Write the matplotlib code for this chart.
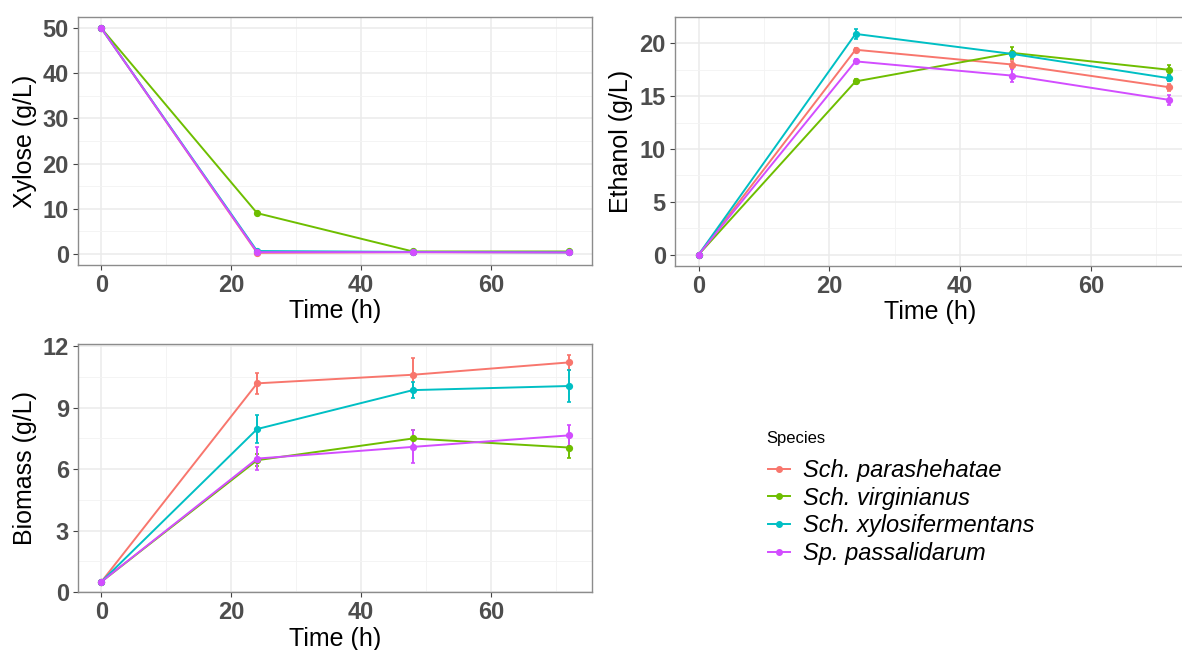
import numpy as np
import matplotlib
matplotlib.use("Agg")
import matplotlib.pyplot as plt
from matplotlib.lines import Line2D

plt.rcParams['font.family'] = ['Liberation Sans', 'DejaVu Sans']

time_h = [0, 24, 48, 72]
species = ["Sch. parashehatae", "Sch. virginianus",
           "Sch. xylosifermentans", "Sp. passalidarum"]
colours = ["#F8766D", "#6EBE00", "#00BFC4", "#D24DFF"]

# xylose (g/L): one row per species, mean then sd
xylose = [[50, 0.2, 0.35, 0.3],
          [50, 9.0, 0.5, 0.5],
          [50, 0.6, 0.4, 0.3],
          [50, 0.35, 0.35, 0.3]]
xylose_sd = [[0.1, 0.2, 0.1, 0.1],
             [0.1, 0.45, 0.1, 0.1],
             [0.1, 0.1, 0.1, 0.1],
             [0.1, 0.1, 0.1, 0.1]]

# ethanol (g/L)
ethanol = [[0, 19.4, 18.0, 15.85],
           [0, 16.4, 19.1, 17.5],
           [0, 20.9, 19.0, 16.7],
           [0, 18.3, 16.95, 14.65]]
ethanol_sd = [[0.05, 0.2, 0.35, 0.35],
              [0.05, 0.25, 0.6, 0.5],
              [0.05, 0.5, 0.3, 0.3],
              [0.05, 0.2, 0.6, 0.5]]

# biomass (g/L)
biomass = [[0.5, 10.18, 10.6, 11.2],
           [0.5, 6.43, 7.49, 7.05],
           [0.5, 7.95, 9.85, 10.05],
           [0.5, 6.51, 7.08, 7.64]]
biomass_sd = [[0.05, 0.5, 0.8, 0.35],
              [0.05, 0.3, 0.4, 0.5],
              [0.05, 0.7, 0.4, 0.8],
              [0.05, 0.55, 0.8, 0.5]]

W, H = 1182, 650
fig = plt.figure(figsize=(W / 100, H / 100), dpi=100)


def add_panel(l, t, r, b):
    return fig.add_axes([l / W, 1 - b / H, (r - l) / W, (b - t) / H])


def style(ax, yticks, yminor, ylim, ylabel):
    ax.set_xlim(-3.6, 75.6)
    ax.set_ylim(*ylim)
    ax.set_xticks([0, 20, 40, 60])
    ax.set_xticks([10, 30, 50, 70], minor=True)
    ax.set_yticks(yticks)
    ax.set_yticks(yminor, minor=True)
    ax.grid(which='major', color='#EBEBEB', lw=1.1)
    ax.grid(which='minor', color='#F3F3F3', lw=0.6)
    ax.set_axisbelow(True)
    for s in ax.spines.values():
        s.set_color('#8C8C8C')
        s.set_linewidth(1.0)
    ax.tick_params(which='major', length=3.6, width=0.8, color='#444444',
                   labelsize=17, labelcolor='#4D4D4D', pad=3)
    ax.tick_params(which='minor', length=0)
    for lab in ax.get_xticklabels() + ax.get_yticklabels():
        lab.set_fontweight('bold')
    ax.set_xlabel("Time (h)", fontsize=18)
    ax.set_ylabel(ylabel, fontsize=18)


def draw(ax, means, sds):
    for m, s, c in zip(means, sds, colours):
        ax.errorbar(time_h, m, yerr=s, color=c, marker='o', ms=4.2, lw=1.4,
                    elinewidth=1.4, capsize=1.5, capthick=1.2)


ax1 = add_panel(78, 17, 592, 265)
draw(ax1, xylose, xylose_sd)
style(ax1, [0, 10, 20, 30, 40, 50], [5, 15, 25, 35, 45], (-2.5, 52.5),
      "Xylose (g/L)")
ax1.yaxis.set_label_coords(-0.08, 0.5)
ax1.xaxis.set_label_coords(0.5, -0.138)

ax2 = add_panel(675, 17, 1193, 266)
draw(ax2, ethanol, ethanol_sd)
style(ax2, [0, 5, 10, 15, 20], [2.5, 7.5, 12.5, 17.5], (-1.07, 22.5),
      "Ethanol (g/L)")
ax2.yaxis.set_label_coords(-0.081, 0.5)
ax2.xaxis.set_label_coords(0.493, -0.138)

ax3 = add_panel(78, 344, 592, 592)
draw(ax3, biomass, biomass_sd)
style(ax3, [0, 3, 6, 9, 12], [1.5, 4.5, 7.5, 10.5], (0, 12.1),
      "Biomass (g/L)")
ax3.yaxis.set_label_coords(-0.08, 0.5)
ax3.xaxis.set_label_coords(0.5, -0.14)

fig.text(766 / W, 1 - 439 / H, "Species", fontsize=12, va='center', ha='left')
handles = [Line2D([], [], color=c, marker='o', ms=4, lw=1.4) for c in colours]
fig.legend(handles, species, loc='upper left',
           bbox_to_anchor=(768 / W, 1 - 459 / H), frameon=False,
           prop={'size': 17, 'style': 'italic'}, borderpad=0,
           borderaxespad=0, handlelength=0.95, handletextpad=0.55,
           labelspacing=0.2)

fig.savefig("out.png", dpi=100)
